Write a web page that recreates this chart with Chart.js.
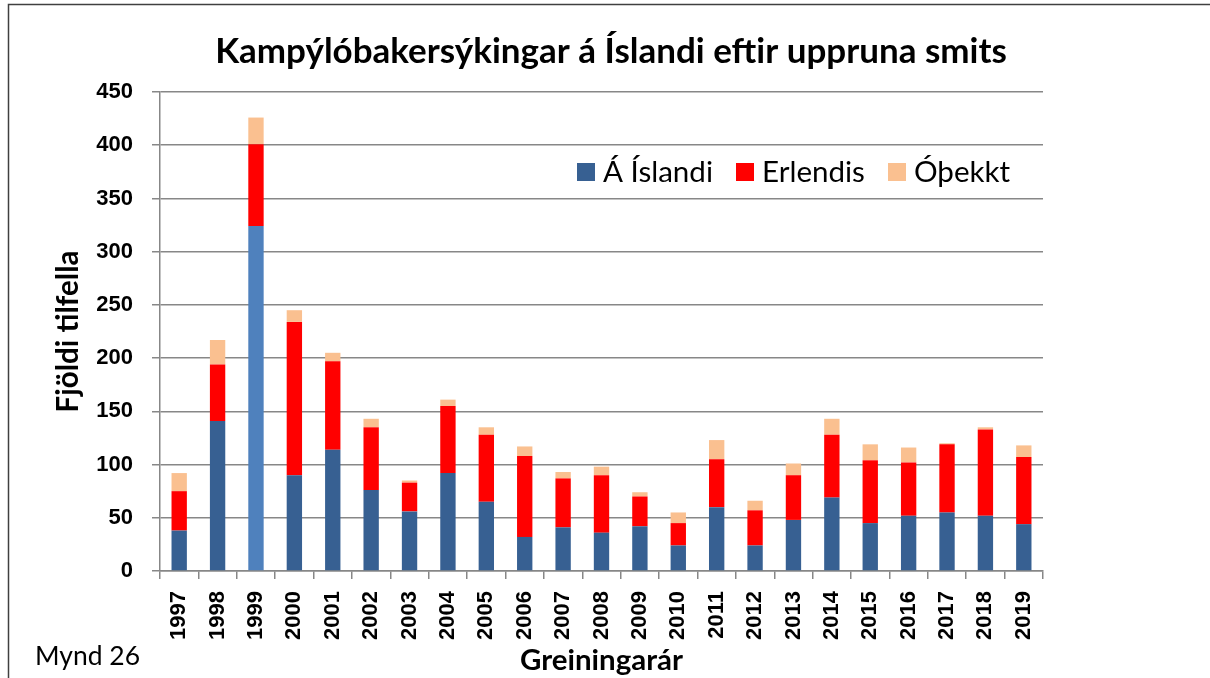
<!DOCTYPE html>
<html><head><meta charset="utf-8">
<script src="https://cdn.jsdelivr.net/npm/chart.js@4.4.0/dist/chart.umd.min.js"></script>
<style>html,body{margin:0;padding:0;background:#fff}#wrap{width:1210px;height:678px;position:relative}</style>
</head><body><div id="wrap"><canvas id="c" width="1210" height="678"></canvas></div>
<script>
const years = ['1997','1998','1999','2000','2001','2002','2003','2004','2005','2006','2007','2008','2009','2010','2011','2012','2013','2014','2015','2016','2017','2018','2019'];
const aIslandi = [38,141,324,90,114,76,56,92,65,32,41,36,42,24,60,24,48,69,45,52,55,52,44];
const erlendis = [37,53,77,144,83,59,27,63,63,76,46,54,28,21,45,33,42,59,59,50,64,81,63];
const othekkt  = [17,23,25,11,8,8,2,6,7,9,6,8,4,10,18,9,11,15,15,14,1,2,11];
const seriesNames = ['Á Íslandi','Erlendis','Óþekkt'];
const yMin = 0, yMax = 450, yStep = 50;
const chartTitle = 'Kampýlóbakersýkingar á Íslandi eftir uppruna smits';
const yTitle = 'Fjöldi tilfella';
const xTitle = 'Greiningarár';
const figLabel = 'Mynd 26';

const BOLD_FAM = '"Lato", "Liberation Sans", sans-serif';
const REG_FAM = '"Lato", "Liberation Sans", sans-serif';
const TICK_FAM = '"Liberation Sans", Arial, sans-serif';

function fit(text, weight, family, target){
  const c = document.createElement('canvas').getContext('2d');
  c.font = weight + ' 100px ' + family;
  return 100 * target / c.measureText(text).width;
}
const titleSize = fit(chartTitle, 'bold', BOLD_FAM, 792);
const yTitleSize = fit(yTitle, 'bold', BOLD_FAM, 162);
const xTitleSize = fit(xTitle, 'bold', BOLD_FAM, 163);
const legendSize = fit(seriesNames[0], 'normal', REG_FAM, 110);
const figSize = fit(figLabel, 'normal', REG_FAM, 105);

const blueCols = years.map(y => y === '1999' ? '#4F81BD' : '#376092');
const GRID = '#878787';

const decor = {
  id: 'decor',
  afterDraw(chart){
    const ctx = chart.ctx;
    ctx.save();
    // frame
    ctx.strokeStyle = '#404040';
    ctx.lineWidth = 1.5;
    ctx.beginPath();
    ctx.moveTo(8.5, 678); ctx.lineTo(8.5, 4.5); ctx.lineTo(1210, 4.5);
    ctx.stroke();
    // title
    ctx.fillStyle = '#000';
    ctx.font = 'bold ' + titleSize + 'px ' + BOLD_FAM;
    ctx.textAlign = 'center';
    ctx.textBaseline = 'alphabetic';
    ctx.fillText(chartTitle, 611, 63);
    // figure label
    ctx.font = 'normal ' + figSize + 'px ' + REG_FAM;
    ctx.textAlign = 'left';
    ctx.fillText(figLabel, 35, 665);
    // legend
    const sqX = [577, 736, 888];
    ctx.font = 'normal ' + legendSize + 'px ' + REG_FAM;
    chart.data.datasets.forEach((ds, i) => {
      const col = Array.isArray(ds.backgroundColor) ? ds.backgroundColor[0] : ds.backgroundColor;
      ctx.fillStyle = col;
      ctx.fillRect(sqX[i], 163, 18, 18);
      ctx.fillStyle = '#000';
      ctx.fillText(ds.label, sqX[i] + 26, 182);
    });
    ctx.restore();
  }
};

new Chart(document.getElementById('c'), {
  type: 'bar',
  data: {
    labels: years,
    datasets: [
      {label: seriesNames[0], data: aIslandi, backgroundColor: blueCols},
      {label: seriesNames[1], data: erlendis, backgroundColor: '#FF0000'},
      {label: seriesNames[2], data: othekkt, backgroundColor: '#FAC090'}
    ]
  },
  options: {
    responsive: false,
    animation: false,
    devicePixelRatio: 1,
    layout: {padding: {top: 92, right: 167, left: 0, bottom: 0}},
    datasets: {bar: {barPercentage: 0.4, categoryPercentage: 1, borderWidth: 0}},
    plugins: {legend: {display: false}, title: {display: false}, tooltip: {enabled: false}},
    scales: {
      x: {
        stacked: true,
        grid: {offset: true, drawOnChartArea: false, drawTicks: true, tickLength: 8, color: GRID, lineWidth: 1.5},
        border: {color: GRID, width: 1.5},
        ticks: {minRotation: 90, maxRotation: 90, padding: 12, color: '#000', font: {family: TICK_FAM, weight: 'bold', size: 22}},
        title: {display: true, text: xTitle, color: '#000', font: {family: BOLD_FAM, weight: 'bold', size: xTitleSize}, padding: {top: 0, bottom: 18 - xTitleSize*0.6}},
        afterFit(s){ s.height = 107; }
      },
      y: {
        stacked: true,
        min: yMin, max: yMax,
        grid: {color: GRID, lineWidth: 1.5, tickLength: 8},
        border: {color: GRID, width: 1.5},
        ticks: {stepSize: yStep, padding: 19, color: '#000', font: {family: TICK_FAM, weight: 'bold', size: 22}},
        title: {display: true, text: yTitle, color: '#000', font: {family: BOLD_FAM, weight: 'bold', size: yTitleSize}, padding: {top: 68 - yTitleSize*0.6, bottom: 0}},
        afterFit(s){ s.width = 160; }
      }
    }
  },
  plugins: [decor]
});
</script></body></html>
